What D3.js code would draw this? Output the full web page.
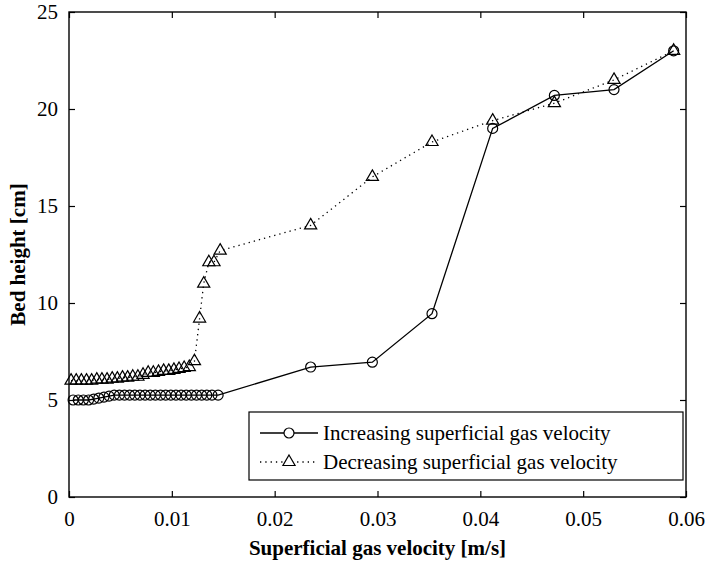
<!DOCTYPE html>
<html><head><meta charset="utf-8">
<script src="https://cdn.jsdelivr.net/npm/d3@7"></script>
<style>body{margin:0;background:#fff}svg{display:block}</style>
</head><body>
<svg id="c" width="707" height="564"></svg>
<script>
const incX = [0.0004,0.0009,0.0014,0.0019,0.0024,0.0029,0.0034,0.0039,0.0044,0.0049,0.0054,0.0059,0.0064,0.0069,0.0074,0.0079,0.0084,0.0089,0.0094,0.0099,0.0104,0.0109,0.0114,0.0119,0.0124,0.0129,0.0134,0.0139,0.0145,0.0235,0.0295,0.0353,0.0412,0.0472,0.0530,0.0588];
const incY = [5.0,5.0,5.0,5.0,5.05,5.1,5.15,5.2,5.25,5.25,5.25,5.25,5.25,5.25,5.25,5.25,5.25,5.25,5.25,5.25,5.25,5.25,5.25,5.25,5.25,5.25,5.25,5.25,5.25,6.7,6.95,9.45,19.0,20.7,21.0,23.0];
const decX = [0.0002,0.0007,0.0012,0.0017,0.0022,0.0027,0.0032,0.0037,0.0042,0.0047,0.0052,0.0057,0.0062,0.0067,0.0072,0.0077,0.0082,0.0087,0.0092,0.0097,0.0102,0.0107,0.0112,0.0117,0.0122,0.0127,0.0131,0.0136,0.0141,0.0147,0.0235,0.0295,0.0353,0.0412,0.0472,0.0530,0.0588];
const decY = [6.0,6.0,6.0,6.0,6.0,6.05,6.05,6.05,6.1,6.1,6.15,6.15,6.2,6.2,6.3,6.4,6.4,6.45,6.5,6.5,6.55,6.6,6.65,6.7,7.0,9.2,11.0,12.1,12.1,12.7,14.0,16.5,18.3,19.4,20.3,21.5,23.0];
const xTicks = [0,0.01,0.02,0.03,0.04,0.05,0.06];
const xTickLabels = ["0","0.01","0.02","0.03","0.04","0.05","0.06"];
const yTicks = [0,5,10,15,20,25];
const seriesNames = ["Increasing superficial gas velocity","Decreasing superficial gas velocity"];
const xTitle = "Superficial gas velocity [m/s]";
const yTitle = "Bed height [cm]";

const W=707,H=564,m={l:69,r:21,t:12,b:67};
const svg=d3.select("#c");
const x=d3.scaleLinear().domain([0,0.06]).range([m.l,W-m.r]);
const y=d3.scaleLinear().domain([0,25]).range([H-m.b,m.t]);
const pw=W-m.l-m.r, ph=H-m.t-m.b;
const FONT="Liberation Serif";

const ax=svg.append("g").attr("transform",`translate(0,${H-m.b})`)
 .call(d3.axisBottom(x).tickValues(xTicks).tickFormat((d,i)=>xTickLabels[i]).tickSizeInner(-6).tickSizeOuter(0).tickPadding(14));
const ay=svg.append("g").attr("transform",`translate(${m.l},0)`)
 .call(d3.axisLeft(y).tickValues(yTicks).tickSizeInner(-6).tickSizeOuter(0).tickPadding(11));
const axt=svg.append("g").attr("transform",`translate(0,${m.t})`)
 .call(d3.axisTop(x).tickValues(xTicks).tickFormat("").tickSizeInner(-6).tickSizeOuter(0));
const ayr=svg.append("g").attr("transform",`translate(${W-m.r},0)`)
 .call(d3.axisRight(y).tickValues(yTicks).tickFormat("").tickSizeInner(-6).tickSizeOuter(0));
[ax,ay,axt,ayr].forEach(g=>{g.attr("font-family",FONT).attr("font-size",21);g.select(".domain").remove();g.selectAll("line").attr("stroke","#000").attr("stroke-width",1.2);
 g.selectAll("text").attr("fill","#000");});
svg.append("rect").attr("x",m.l).attr("y",m.t).attr("width",pw).attr("height",ph).attr("fill","none").attr("stroke","#000").attr("stroke-width",1.4);

svg.append("text").attr("x",(m.l+W-m.r)/2).attr("y",555).attr("text-anchor","middle")
 .attr("font-family",FONT).attr("font-weight","bold").attr("font-size",21).text(xTitle);
svg.append("text").attr("transform",`translate(25,${(m.t+H-m.b)/2}) rotate(-90)`).attr("text-anchor","middle")
 .attr("font-family",FONT).attr("font-weight","bold").attr("font-size",21).text(yTitle);

const inc=incX.map((d,i)=>[d,incY[i]]), dec=decX.map((d,i)=>[d,decY[i]]);
const line=d3.line().x(d=>x(d[0])).y(d=>y(d[1]));
svg.append("path").attr("d",line(dec)).attr("fill","none").attr("stroke","#000").attr("stroke-width",1.3).attr("stroke-dasharray","1.3,4");
svg.append("path").attr("d",line(inc)).attr("fill","none").attr("stroke","#000").attr("stroke-width",1.3);
const tri=d3.symbol().type(d3.symbolTriangle).size(64);
svg.append("g").selectAll("path").data(dec).join("path").attr("d",tri)
 .attr("transform",d=>`translate(${x(d[0])},${y(d[1])})`).attr("fill","none").attr("stroke","#000").attr("stroke-width",1.2);
svg.append("g").selectAll("circle").data(inc).join("circle").attr("cx",d=>x(d[0])).attr("cy",d=>y(d[1])).attr("r",5)
 .attr("fill","none").attr("stroke","#000").attr("stroke-width",1.2);

const lg=svg.append("g");
lg.append("rect").attr("x",249).attr("y",412).attr("width",434).attr("height",68).attr("fill","#fff").attr("stroke","#000").attr("stroke-width",1.2);
const rows=[433,462];
lg.append("line").attr("x1",260).attr("x2",318).attr("y1",rows[0]).attr("y2",rows[0]).attr("stroke","#000").attr("stroke-width",1.3);
lg.append("circle").attr("cx",289).attr("cy",rows[0]).attr("r",5).attr("fill","#fff").attr("stroke","#000").attr("stroke-width",1.2);
lg.append("line").attr("x1",260).attr("x2",318).attr("y1",rows[1]).attr("y2",rows[1]).attr("stroke","#000").attr("stroke-width",1.3).attr("stroke-dasharray","1.3,4");
lg.append("path").attr("d",tri).attr("transform",`translate(289,${rows[1]})`).attr("fill","#fff").attr("stroke","#000").attr("stroke-width",1.2);
lg.selectAll("text.l").data(seriesNames).join("text").attr("x",323).attr("y",(d,i)=>rows[i]+7)
 .attr("font-family",FONT).attr("font-size",21).text(d=>d);
</script>
</body></html>
